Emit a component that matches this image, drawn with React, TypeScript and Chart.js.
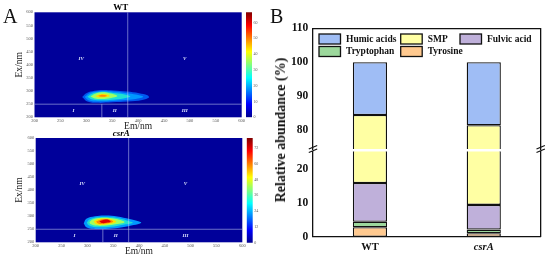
import React, { useEffect, useRef } from "react";
import { Chart, registerables } from "chart.js";

Chart.register(...registerables);

const SERIF = "'Liberation Serif', serif";

// ---- Panel A data (Em, Ex) contour outlines
const emTicks = { min: 200, max: 600, step: 50 };
const exTicks = { min: 200, max: 600, step: 50 };
const contourColors = ["#0058f0", "#0098ff", "#20e0d0", "#a0ff60", "#ffe000", "#ff8a00", "#e00000"];

const wtLevel1 = [[292,277],[300,292],[316,301],[332,304],[352,302],[378,298],[402,292],[418,284],[421,275],[408,266],[380,260],[350,257],[322,255],[302,260],[292,277]];
const wtLevel2 = [[297,277],[305,291],[320,298],[334,300],[352,298],[375,293],[398,286],[410,278],[395,270],[370,265],[345,261],[322,260],[305,264],[297,277]];
const wtLevel3 = [[302,278],[310,289],[322,295],[335,297],[352,293],[372,288],[385,279],[372,272],[350,267],[326,265],[310,269],[302,278]];
const wtLevel4 = [[308,279],[316,289],[330,295],[344,292],[356,286],[360,280],[348,274],[330,270],[316,272],[308,279]];
const wtLevel5 = [[318,281],[325,287],[334,289],[342,286],[345,281],[338,277],[328,275],[320,277],[318,281]];
const wtLevel6 = [[323,282],[330,286],[338,284],[340,281],[333,278],[326,279],[323,282]];

const csrLevel1 = [[293,272],[298,290],[315,300],[335,303],[358,299],[382,289],[404,277],[402,272],[385,264],[362,256],[335,251],[312,252],[298,258],[293,272]];
const csrLevel2 = [[299,276],[305,288],[320,296],[338,297],[358,293],[376,284],[388,275],[372,268],[352,261],[330,258],[312,259],[302,266],[299,276]];
const csrLevel3 = [[304,277],[310,287],[322,293],[338,294],[356,289],[372,277],[352,268],[332,263],[315,264],[306,270],[304,277]];
const csrLevel4 = [[312,279],[318,287],[330,291],[344,289],[356,279],[345,271],[330,267],[318,269],[312,279]];
const csrLevel5 = [[317,280],[324,286],[334,289],[345,286],[350,279],[340,273],[328,270],[320,273],[317,280]];
const csrLevel6 = [[323,281],[329,285],[337,287],[344,283],[345,279],[337,275],[328,274],[323,281]];

const regionLabels = ["I", "II", "III", "IV", "V"];
const regionEm = [275, 355, 490, 290, 490];
const regionEx = [225, 225, 225, 425, 425];
const dividerH = [[200, 250], [600, 250]];
const dividerV1 = [[380, 200], [380, 600]];
const dividerV2 = [[330, 200], [330, 250]];

const jetStops = ["#00008f", "#0000ff", "#0080ff", "#00ffff", "#80ff80", "#ffff00", "#ff8000", "#ff0000", "#800000"];
const wtBarMax = 66.5;
const wtBarStep = 10;
const csrBarMax = 79.5;
const csrBarStep = 12;

// ---- Panel B data
const sampleNames = ["WT", "csrA"];
const legendOrder = ["Humic acids", "SMP", "Fulvic acid", "Tryptophan", "Tyrosine"];
const tyrosine = [2.8, 1.0];
const tryptophan = [1.6, 1.1];
const fulvicAcid = [11.5, 7.3];
const smp = [68.6, 72.1];
const humicAcids = [15.5, 18.5];
const barColors = { "Humic acids": "#9fbdf5", SMP: "#ffffa3", "Fulvic acid": "#bfb0da", Tryptophan: "#9cd89c", Tyrosine: "#ffc98f" };

const pts = (a: number[][]) => a.map(([x, y]) => ({ x, y }));
const noPad = (s: any) => { s.paddingTop = 0; s.paddingBottom = 0; s.paddingLeft = 0; s.paddingRight = 0; };

const heatBg = {
  id: "heatBg",
  beforeDatasetsDraw(c: any) {
    const { ctx, chartArea: a } = c;
    ctx.save();
    ctx.fillStyle = "#00009a";
    ctx.fillRect(a.left, a.top, a.right - a.left, a.bottom - a.top);
    ctx.restore();
  },
};

const regionText = {
  id: "regionText",
  afterDatasetsDraw(c: any) {
    const { ctx, scales } = c;
    ctx.save();
    ctx.fillStyle = "#dfe6ff";
    ctx.font = `italic bold 5px ${SERIF}`;
    ctx.textAlign = "center";
    ctx.textBaseline = "middle";
    regionLabels.forEach((t, i) => {
      ctx.fillText(t, scales.x.getPixelForValue(regionEm[i]), scales.y.getPixelForValue(regionEx[i]));
    });
    ctx.restore();
  },
};

function makeHeat(canvas: HTMLCanvasElement, levels: number[][][], title: string, italic: boolean, leftW: number, rightGap: number, titlePad: any) {
  const lineColor = "rgba(205,215,245,0.65)";
  const dividers = [dividerH, dividerV1, dividerV2].map((d) => ({
    type: "scatter" as const,
    data: pts(d),
    showLine: true,
    borderColor: lineColor,
    borderWidth: 0.8,
    pointRadius: 0,
    fill: false,
    order: 0,
  }));
  const fills = levels.map((l, i) => ({
    type: "scatter" as const,
    data: pts(l),
    showLine: true,
    tension: 0.4,
    borderWidth: 0,
    borderColor: "transparent",
    backgroundColor: contourColors[i + (italic ? 1 : 0)],
    pointRadius: 0,
    fill: "shape",
    order: 20 - i,
  }));
  return new Chart(canvas, {
    type: "scatter",
    data: { datasets: [...dividers, ...fills] as any },
    plugins: [heatBg, regionText],
    options: {
      animation: false,
      responsive: false,
      layout: { padding: { top: 0, right: rightGap, left: 0, bottom: 0 } },
      plugins: {
        legend: { display: false },
        tooltip: { enabled: false },
        title: {
          display: true,
          text: title,
          color: "#000",
          font: { family: SERIF, size: 9, weight: "bold", style: italic ? "italic" : "normal", lineHeight: 1.2 },
          padding: titlePad,
        },
      },
      scales: {
        x: {
          type: "linear",
          min: emTicks.min,
          max: emTicks.max,
          afterFit: (s: any) => { s.height = 15.7; noPad(s); },
          grid: { display: false, drawTicks: false },
          border: { display: false },
          ticks: { stepSize: emTicks.step, color: "#555", padding: 1, maxRotation: 0, autoSkip: false, font: { family: SERIF, size: 4.5 } },
          title: { display: true, text: "Em/nm", color: "#222", padding: { top: 0, bottom: 0.6 }, font: { family: SERIF, size: 9.5, lineHeight: 1.2 } },
        },
        y: {
          type: "linear",
          min: exTicks.min,
          max: exTicks.max,
          afterFit: (s: any) => { s.width = leftW; noPad(s); },
          grid: { display: false, drawTicks: false },
          border: { display: false },
          ticks: { stepSize: exTicks.step, color: "#555", padding: 1.5, autoSkip: false, font: { family: SERIF, size: 4.5 } },
          title: { display: true, text: "Ex/nm", color: "#222", padding: { top: 13.3, bottom: 0 }, font: { family: SERIF, size: 9.5, lineHeight: 1.2 } },
        },
      },
    },
  } as any);
}

function makeColorbar(canvas: HTMLCanvasElement, max: number, step: number, top: number, bottom: number, left: number, right: number) {
  return new Chart(canvas, {
    type: "bar",
    data: {
      labels: ["scale"],
      datasets: [{
        data: [max],
        barPercentage: 1,
        categoryPercentage: 1,
        backgroundColor: (ctx: any) => {
          const a = ctx.chart.chartArea;
          if (!a) return "#000";
          const g = ctx.chart.ctx.createLinearGradient(0, a.bottom, 0, a.top);
          jetStops.forEach((c, i) => g.addColorStop(i / (jetStops.length - 1), c));
          return g;
        },
      }],
    },
    options: {
      animation: false,
      responsive: false,
      layout: { padding: { top, bottom, left, right: 0 } },
      plugins: { legend: { display: false }, tooltip: { enabled: false }, title: { display: false } },
      scales: {
        x: { display: false },
        y: {
          position: "right",
          min: 0,
          max,
          afterFit: (s: any) => { s.width = right; noPad(s); },
          grid: { display: false, drawTicks: false },
          border: { display: false },
          ticks: { stepSize: step, includeBounds: false, color: "#555", padding: 1.5, font: { family: SERIF, size: 4 } },
        },
      },
    },
  } as any);
}

const barDatasets = () => [
  { label: "Tyrosine", data: tyrosine },
  { label: "Tryptophan", data: tryptophan },
  { label: "Fulvic acid", data: fulvicAcid },
  { label: "SMP", data: smp },
  { label: "Humic acids", data: humicAcids },
].map((d) => ({
  ...d,
  backgroundColor: (barColors as any)[d.label],
  borderColor: "#111",
  borderWidth: 1.3,
  borderSkipped: false,
  barPercentage: 0.3,
  categoryPercentage: 1,
}));

const legendPlugin = {
  id: "swatches",
  afterDraw(c: any) {
    const { ctx } = c;
    const cols = [44, 125.7, 185];
    const rows = [34, 46.5];
    ctx.save();
    ctx.font = `bold 9.5px ${SERIF}`;
    ctx.textBaseline = "middle";
    legendOrder.forEach((name, i) => {
      const x = cols[i % 3];
      const y = rows[Math.floor(i / 3)];
      ctx.fillStyle = (barColors as any)[name];
      ctx.strokeStyle = "#111";
      ctx.lineWidth = 1.3;
      ctx.fillRect(x, y, 21.5, 10);
      ctx.strokeRect(x, y, 21.5, 10);
      ctx.fillStyle = "#111";
      ctx.fillText(name, x + 27, y + 5.2);
    });
    ctx.restore();
  },
};

const breakMarks = {
  id: "breakMarks",
  afterDraw(c: any) {
    const { ctx, chartArea: a } = c;
    ctx.save();
    ctx.strokeStyle = "#111";
    ctx.lineWidth = 1.1;
    [a.left, a.right].forEach((x) => {
      [0, 3.6].forEach((dy) => {
        ctx.beginPath();
        ctx.moveTo(x - 4.2, a.bottom + dy);
        ctx.lineTo(x + 4.2, a.bottom + dy - 3.6);
        ctx.stroke();
      });
    });
    ctx.restore();
  },
};

function makeBars(canvas: HTMLCanvasElement, upper: boolean, min: number, max: number, areaTop: number, areaBottomGap: number) {
  const tickFont = { family: SERIF, size: 11.5, weight: "bold" };
  const frame = { display: true, color: "#111", width: 1.3 };
  const scales: any = {
    x: {
      type: "category",
      display: !upper,
      stacked: true,
      afterFit: (s: any) => { s.height = upper ? 0 : areaBottomGap; noPad(s); },
      grid: { display: false, drawTicks: false },
      border: frame,
      ticks: {
        padding: 4,
        color: "#111",
        font: (ctx: any) => ({ ...tickFont, size: 10.5, style: ctx.index === 1 ? "italic" : "normal" }),
      },
    },
    y: {
      type: "linear",
      position: "left",
      stacked: true,
      min,
      max,
      weight: 1,
      afterFit: (s: any) => { s.width = 38; noPad(s); },
      grid: { display: false, drawOnChartArea: false, drawTicks: true, tickLength: -4, tickColor: "#111", tickWidth: 1.1 },
      border: frame,
      ticks: { stepSize: 10, includeBounds: false, padding: 8.7, color: "#111", font: tickFont },
    },
    yMinor: {
      type: "linear",
      position: "left",
      min,
      max,
      weight: 0,
      afterFit: (s: any) => { s.width = 0; noPad(s); },
      grid: { display: false, drawOnChartArea: false, drawTicks: true, tickLength: -2.5, tickColor: "#111", tickWidth: 0.9 },
      border: { display: false },
      ticks: { stepSize: 5, includeBounds: false, display: false },
    },
    yRight: {
      type: "linear",
      position: "right",
      min,
      max,
      afterFit: (s: any) => { s.width = 0; noPad(s); },
      grid: { display: false, drawTicks: false },
      border: frame,
      ticks: { display: false },
    },
  };
  if (upper) {
    scales.xTop = {
      type: "category",
      position: "top",
      labels: sampleNames,
      afterFit: (s: any) => { s.height = 0; noPad(s); },
      grid: { display: false, drawTicks: false },
      border: frame,
      ticks: { display: false },
    };
  } else {
    scales.xMinor = {
      type: "linear",
      position: "bottom",
      min: 0,
      max: 2,
      afterFit: (s: any) => { s.height = 0; noPad(s); },
      grid: { display: false, drawOnChartArea: false, drawTicks: true, tickLength: -2, tickColor: "#111", tickWidth: 1.2 },
      border: { display: false },
      ticks: { stepSize: 1, display: false },
    };
  }
  return new Chart(canvas, {
    type: "bar",
    data: { labels: sampleNames, datasets: barDatasets() as any },
    plugins: upper ? [legendPlugin, breakMarks] : [],
    options: {
      animation: false,
      responsive: false,
      layout: { padding: { top: areaTop, right: 9.3, left: 0, bottom: upper ? areaBottomGap : 0 } },
      plugins: { legend: { display: false }, tooltip: { enabled: false }, title: { display: false } },
      scales,
    },
  } as any);
}

const abs = (left: number, top: number, width: number, height: number, blur = 0.35): React.CSSProperties => ({
  position: "absolute", left, top, width, height, display: "block", filter: `blur(${blur}px)`,
});

export default function App() {
  const heatA = useRef<HTMLCanvasElement>(null);
  const heatB = useRef<HTMLCanvasElement>(null);
  const barA = useRef<HTMLCanvasElement>(null);
  const barB = useRef<HTMLCanvasElement>(null);
  const up = useRef<HTMLCanvasElement>(null);
  const low = useRef<HTMLCanvasElement>(null);

  useEffect(() => {
    document.body.style.margin = "0";
    document.body.style.background = "#fff";
    const charts = [
      makeHeat(heatA.current!, [wtLevel1, wtLevel2, wtLevel3, wtLevel4, wtLevel5, wtLevel6], "WT", false, 34.5, 8.3, { top: 2.5, bottom: -1 }),
      makeHeat(heatB.current!, [csrLevel1, csrLevel2, csrLevel3, csrLevel4, csrLevel5, csrLevel6], "csrA", true, 35.7, 7.7, { top: 0.5, bottom: -1.3 }),
      makeColorbar(barA.current!, wtBarMax, wtBarStep, 12.3, 12.7, 6, 15),
      makeColorbar(barB.current!, csrBarMax, csrBarStep, 13, 12.3, 6.7, 14.3),
      makeBars(up.current!, true, 74.5, 110, 28.3, 26),
      makeBars(low.current!, false, 0, 25.2, 21.5, 24.3),
    ];
    return () => charts.forEach((c) => c.destroy());
  }, []);

  const textStyle: React.CSSProperties = { position: "absolute", fontFamily: SERIF, color: "#111", whiteSpace: "nowrap", lineHeight: 1 };

  return (
    <div style={{ position: "relative", width: 550, height: 261, overflow: "hidden", background: "#fff" }}>
      <canvas ref={heatA} width={250} height={133} style={abs(0, 0, 250, 133)} />
      <canvas ref={heatB} width={250} height={130} style={abs(0, 128, 250, 130)} />
      <canvas ref={barA} width={27} height={130} style={abs(240, 0, 27, 130)} />
      <canvas ref={barB} width={27} height={130} style={abs(240, 125, 27, 130)} />
      <canvas ref={up} width={275} height={175} style={abs(275, 0, 275, 175)} />
      <canvas ref={low} width={275} height={131} style={abs(275, 130, 275, 131)} />
      <div style={{ ...textStyle, left: 3, top: 6, fontSize: 20 }}>A</div>
      <div style={{ ...textStyle, left: 270, top: 6, fontSize: 20 }}>B</div>
      <div style={{ ...textStyle, left: 281, top: 130, fontSize: 14, fontWeight: "bold", transform: "translate(-50%,-50%) rotate(-90deg)" }}>
        Relative abundance (%)
      </div>
    </div>
  );
}
